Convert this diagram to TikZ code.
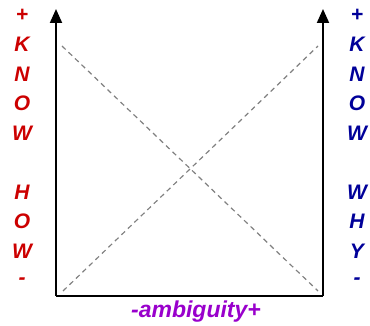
\documentclass[tikz,border=0pt]{standalone}
\usepackage{fontspec}
\setmainfont{Liberation Sans}
\usetikzlibrary{arrows.meta}
\definecolor{knowred}{HTML}{CC0000}
\definecolor{knowblue}{HTML}{000099}
\definecolor{ambpurple}{HTML}{9900CC}
\tikzset{
  axis/.style={line width=2pt, black},
  diag/.style={line width=1.2pt, gray, dash pattern=on 5pt off 4pt},
  letter/.style={inner sep=0pt, font=\fontsize{21}{21}\selectfont\bfseries\itshape},
}
\begin{document}
\begin{tikzpicture}[x=1pt,y=-1pt]
\useasboundingbox (0,0) rectangle (370,326);
\coordinate (o) at (56,296);
\coordinate (r) at (323,296);
\coordinate (lt) at (56,9);
\coordinate (rt) at (323,9);
\draw[axis,-{Triangle[length=14pt,width=12pt]}] (o) -- (lt);
\draw[axis,-{Triangle[length=14pt,width=12pt]}] (r) -- (rt);
\draw[axis] (o) -- (r);
\coordinate (d1) at (62,46);
\coordinate (d2) at (318,291);
\coordinate (d3) at (63,291);
\coordinate (d4) at (318,46);
\draw[diag] (d1) -- (d2);
\draw[diag] (d3) -- (d4);
\foreach \t/\y [count=\i] in {+/15,K/44.5,N/74,O/103.5,W/133,H/192,O/221.5,W/251,-/281}
  \node[letter, text=knowred] (l\i) at (22,\y) {\t};
\foreach \t/\y [count=\i] in {+/15,K/44.5,N/74,O/103.5,W/133,W/192,H/221.5,Y/251,-/281}
  \node[letter, text=knowblue] (r\i) at (357,\y) {\t};
\node[inner sep=0pt, text=ambpurple, font=\fontsize{23}{23}\selectfont\bfseries\itshape] (amb) at (196,312) {-ambiguity+};
\end{tikzpicture}
\end{document}
